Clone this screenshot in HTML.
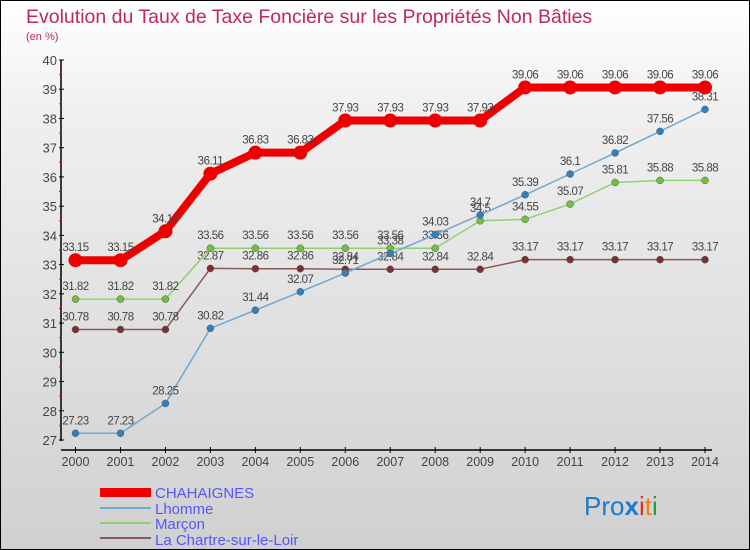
<!DOCTYPE html>
<html><head><meta charset="utf-8"><style>
body{margin:0}
#c{width:750px;height:550px;position:relative;overflow:hidden;box-sizing:border-box;border:1px solid #000;background:linear-gradient(#fff,#f0f0f0 20%,#d0d0d0);font-family:"Liberation Sans",sans-serif}
</style></head><body>
<div id="c">
<svg width="750" height="550" id="s" style="position:absolute;left:-1px;top:-1px">
<text x="26" y="23" font-size="19.5" fill="#c0285a">Evolution du Taux de Taxe Foncière sur les Propriétés Non Bâties</text>
<text x="26" y="40" font-size="11" fill="#c0285a">(en %)</text>
<g id="ax"></g><g id="ser"></g>
<g font-size="15" fill="#5555ff">
<rect x="100" y="488" width="51" height="9" fill="#e00"/>
<text x="155" y="498">CHAHAIGNES</text>
<rect x="100" y="507" width="51" height="2" fill="#6fa8d0"/>
<text x="155" y="514">Lhomme</text>
<rect x="100" y="522" width="51" height="2" fill="#90d070"/>
<text x="155" y="529">Marçon</text>
<rect x="100" y="537" width="51" height="2" fill="#8a5a5a"/>
<text x="155" y="545">La Chartre-sur-le-Loir</text>
</g>
<text x="584" y="515" font-size="26"><tspan fill="#1a7ad0">Pro</tspan><tspan fill="#1a7ad0" font-weight="bold">x</tspan><tspan fill="#e03020">i</tspan><tspan fill="#f08010">t</tspan><tspan fill="#20a040">i</tspan></text>
</svg></div>
<script>
const years=[2000,2001,2002,2003,2004,2005,2006,2007,2008,2009,2010,2011,2012,2013,2014];
const yTicks=[27,28,29,30,31,32,33,34,35,36,37,38,39,40];
const chahaignes=[33.15,33.15,34.14,36.11,36.83,36.83,37.93,37.93,37.93,37.93,39.06,39.06,39.06,39.06,39.06];
const lhomme=[27.23,27.23,28.25,30.82,31.44,32.07,32.71,33.38,34.03,34.7,35.39,36.1,36.82,37.56,38.31];
const marcon=[31.82,31.82,31.82,33.56,33.56,33.56,33.56,33.56,33.56,34.5,34.55,35.07,35.81,35.88,35.88];
const chartre=[30.78,30.78,30.78,32.87,32.86,32.86,32.84,32.84,32.84,32.84,33.17,33.17,33.17,33.17,33.17];
const NS="http://www.w3.org/2000/svg";
const X=i=>75.5+i*(705-75.5)/14;
const Y=v=>440-(v-27)*(380/13);
function mk(t,a,p){const e=document.createElementNS(NS,t);for(const k in a)e.setAttribute(k,a[k]);p.appendChild(e);return e;}
const ax=document.getElementById('ax');
const ya=mk('line',{x1:61,y1:60,x2:61,y2:441,stroke:'#000','stroke-width':1.5},ax);


const xa=mk('line',{x1:61,y1:450,x2:712,y2:450,stroke:'#000','stroke-width':1.5},ax);


yTicks.forEach(v=>{
 mk('line',{x1:59,x2:64,y1:Y(v),y2:Y(v),stroke:'#000'},ax);
 if(v<40)mk('line',{x1:59,x2:62,y1:Y(v+0.5),y2:Y(v+0.5),stroke:'#e00'},ax);
 const t=mk('text',{x:57,y:Y(v)+5,'font-size':13,fill:'#444','text-anchor':'end'},ax);t.textContent=v;
 
 
});
years.forEach((yr,i)=>{
 mk('line',{x1:X(i),x2:X(i),y1:447,y2:453,stroke:'#000'},ax);
 const t=mk('text',{x:X(i),y:466,'font-size':12.5,fill:'#444','text-anchor':'middle'},ax);t.textContent=yr;
 
 
});
const ser=document.getElementById('ser');
function draw(d,col,w,r,name,dot){
 const g=mk('g',{},ser);
 
 
 const pl=mk('polyline',{points:d.map((v,i)=>X(i)+','+Y(v)).join(' '),fill:'none',stroke:col,'stroke-width':w},g);
 
 
 d.forEach((v,i)=>{
  const c=mk('circle',{cx:X(i),cy:Y(v),r:r,fill:dot,stroke:w>3?'none':'#555','stroke-width':0.5},g);
  
  
  const t=mk('text',{x:X(i),y:Y(v)-9,'font-size':11.5,fill:'#444','text-anchor':'middle','letter-spacing':'-0.5'},g);t.textContent=v;
  
  
 });
}
draw(chartre,'#8a5a5a',1.5,3.5,'chartre','#7a3030');
draw(marcon,'#90d070',1.5,3.5,'marcon','#70c040');
draw(lhomme,'#6fa8d0',1.5,3.5,'lhomme','#3080c0');
draw(chahaignes,'#e00',8,7,'chahaignes','#e00');
</script>
</body></html>
